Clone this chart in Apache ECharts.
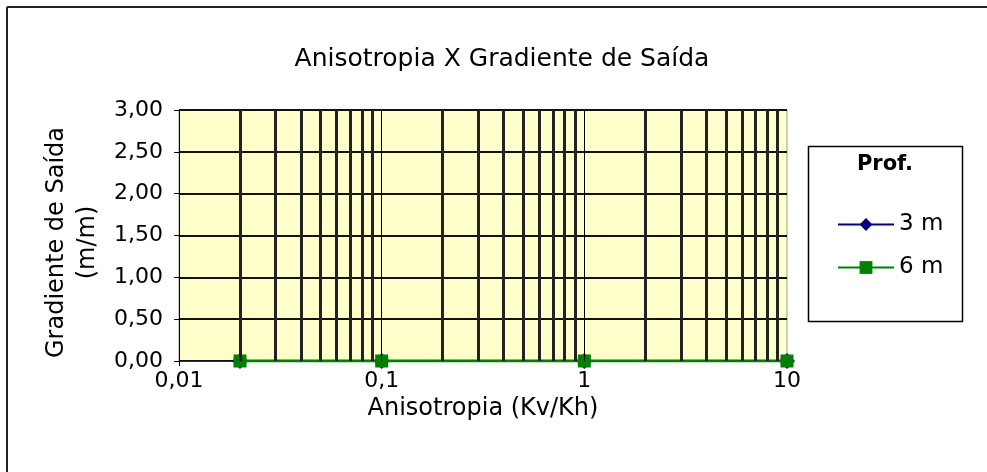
<!DOCTYPE html>
<html>
<head>
<meta charset="utf-8">
<script src="https://cdn.jsdelivr.net/npm/echarts@6/dist/echarts.min.js"></script>
<style>
  html, body { margin: 0; padding: 0; background: #fff; }
  #main { width: 987px; height: 472px; }
</style>
</head>
<body>
<div id="main"></div>
<script>
// ---- dados ----
const anisotropia = [0.02, 0.1, 1, 10];
const grad3m = [0, 0, 0, 0];
const grad6m = [0, 0, 0, 0];
const xTickLabels = { 0.01: "0,01", 0.1: "0,1", 1: "1", 10: "10" };
// linhas de grade secundárias (escala log)
const minorGrid = [0.02, 0.03, 0.04, 0.05, 0.06, 0.07, 0.08, 0.09,
  0.2, 0.3, 0.4, 0.5, 0.6, 0.7, 0.8, 0.9,
  2, 3, 4, 5, 6, 7, 8, 9];
const majorGrid = [0.1, 1];

const FONT = "DejaVu Sans";

function pairs(xs, ys) {
  return xs.map((x, i) => [x, ys[i]]);
}

let chart = echarts.init(document.getElementById("main"));
let option = {
  animation: false,
  textStyle: { fontFamily: FONT },
  title: {
    text: "Anisotropia X Gradiente de Saída",
    left: 497,
    textAlign: "center",
    top: 42,
    textStyle: { fontFamily: FONT, fontSize: 25, fontWeight: "normal", color: "#000" },
  },
  legend: {
    data: ["3 m", "6 m"],
    orient: "vertical",
    left: 837,
    top: 213,
    padding: 0,
    itemWidth: 56,
    itemHeight: 16,
    itemGap: 20,
    textStyle: { fontFamily: FONT, fontSize: 23, lineHeight: 23, color: "#000" },
  },
  grid: {
    left: 179,
    right: 200,
    top: 110,
    bottom: 111,
    show: true,
    backgroundColor: "#FFFFCC",
    borderColor: "#999",
    borderWidth: 1,
  },
  xAxis: {
    type: "log",
    logBase: 10,
    min: 0.01,
    max: 10,
    name: "Anisotropia (Kv/Kh)",
    nameLocation: "middle",
    nameGap: 34,
    nameTextStyle: { fontFamily: FONT, fontSize: 24, color: "#000" },
    axisLine: { show: true, lineStyle: { color: "#333", width: 1 } },
    axisTick: { show: true, inside: false, length: 5, lineStyle: { color: "#000" } },
    axisLabel: {
      fontFamily: FONT,
      fontSize: 22,
      color: "#000",
      margin: 9,
      formatter: (v) => xTickLabels[v] || "",
    },
    splitLine: { show: false },
  },
  yAxis: {
    type: "value",
    min: 0,
    max: 3,
    interval: 0.5,
    name: "Gradiente de Saída\n(m/m)",
    nameLocation: "middle",
    nameGap: 64,
    nameTextStyle: { fontFamily: FONT, fontSize: 24, color: "#000", lineHeight: 31, padding: [0, 14, 0, 0] },
    axisLine: { show: true, lineStyle: { color: "#000", width: 1 } },
    axisTick: { show: true, inside: false, length: 5, lineStyle: { color: "#000" } },
    axisLabel: {
      fontFamily: FONT,
      fontSize: 22,
      color: "#000",
      margin: 16,
      formatter: (v) => v.toFixed(2).replace(".", ","),
    },
    splitLine: { show: true, lineStyle: { color: "#111", width: 2 } },
  },
  graphic: [
    // borda externa
    { type: "line", shape: { x1: 7, y1: 7, x2: 987, y2: 7 }, style: { stroke: "#222", lineWidth: 2 } },
    { type: "line", shape: { x1: 7, y1: 7, x2: 7, y2: 472 }, style: { stroke: "#222", lineWidth: 2 } },
    // caixa da legenda
    {
      type: "rect",
      shape: { x: 808.5, y: 146.5, width: 154, height: 175 },
      style: { fill: "#fff", stroke: "#000", lineWidth: 1.5 },
      z: 0,
    },
    {
      type: "text",
      x: 885,
      y: 165,
      style: {
        text: "Prof.",
        font: "bold 21px 'DejaVu Sans'",
        fill: "#000",
        align: "center",
        verticalAlign: "middle",
      },
      z: 1,
    },
  ],
  series: [
    {
      name: "grade",
      type: "line",
      data: [],
      silent: true,
      markLine: {
        silent: true,
        symbol: "none",
        label: { show: false },
        emphasis: { disabled: true },
        data: minorGrid
          .map((v) => ({ xAxis: v, lineStyle: { color: "#222", width: 3, type: "solid" } }))
          .concat(majorGrid.map((v) => ({ xAxis: v, lineStyle: { color: "#000", width: 1, type: "solid" } }))),
      },
    },
    {
      name: "3 m",
      type: "line",
      data: pairs(anisotropia, grad3m),
      symbol: "diamond",
      symbolSize: 16,
      color: "#000080",
      lineStyle: { color: "#000080", width: 2 },
      itemStyle: { color: "#000080" },
      z: 3,
    },
    {
      name: "6 m",
      type: "line",
      data: pairs(anisotropia, grad6m),
      symbol: "rect",
      symbolSize: 13,
      color: "#008000",
      lineStyle: { color: "#008000", width: 3 },
      itemStyle: { color: "#008000" },
      z: 4,
    },
  ],
};
chart.setOption(option);

window.onresize = function () {
  chart.resize();
};
</script>
</body>
</html>
